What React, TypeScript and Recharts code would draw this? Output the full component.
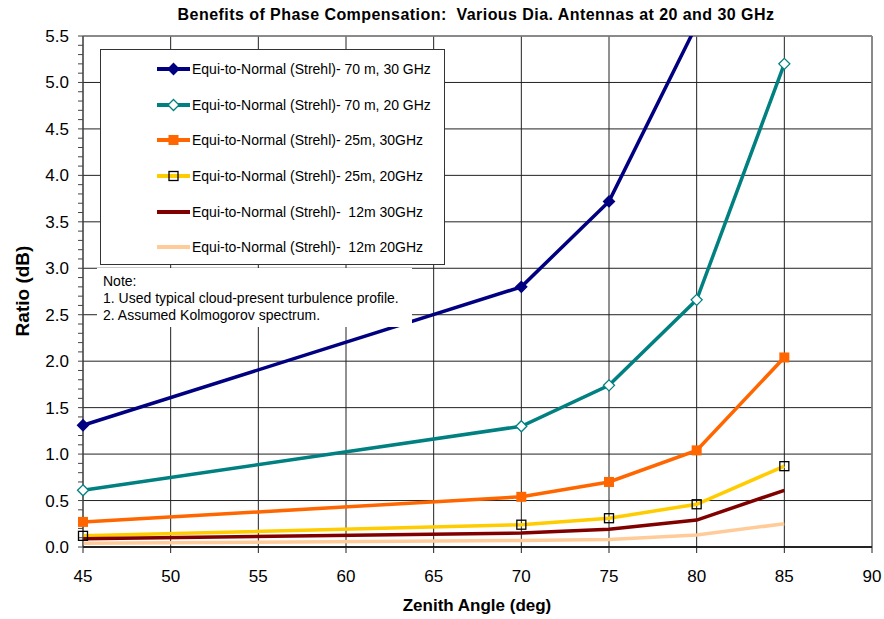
import React from "react";
import { LineChart, Line, XAxis, YAxis, CartesianGrid, Legend, ReferenceLine } from "recharts";

const FONT = '"Liberation Sans", Arial, Helvetica, sans-serif';

// zenith angles where the curves were evaluated
const angles = [45, 70, 75, 80, 85];

// ratio (dB) per series
const ratio70m30 = [1.31, 2.8, 3.72, 5.62, 11];
const ratio70m20 = [0.61, 1.3, 1.74, 2.66, 5.2];
const ratio25m30 = [0.27, 0.54, 0.7, 1.04, 2.04];
const ratio25m20 = [0.12, 0.24, 0.31, 0.46, 0.87];
const ratio12m30 = [0.09, 0.15, 0.19, 0.29, 0.61];
const ratio12m20 = [0.04, 0.07, 0.08, 0.13, 0.25];

const xTicks = [45, 50, 55, 60, 65, 70, 75, 80, 85, 90];
const yTicks = [0, 0.5, 1, 1.5, 2, 2.5, 3, 3.5, 4, 4.5, 5, 5.5];
const xMinorTicks = Array.from({ length: 46 }, (_, i) => 45 + i);
const yMinorTicks = Array.from({ length: 56 }, (_, i) => i / 10);

const noteLines = [
  "Note:",
  "1. Used typical cloud-present turbulence profile.",
  "2. Assumed Kolmogorov spectrum.",
];

type Marker = "diamond" | "diamondOpen" | "square" | "squareOpen" | "none";

const series: { key: string; name: string; color: string; marker: Marker; values: number[] }[] = [
  { key: "s1", name: "Equi-to-Normal (Strehl)- 70 m, 30 GHz", color: "#000080", marker: "diamond", values: ratio70m30 },
  { key: "s2", name: "Equi-to-Normal (Strehl)- 70 m, 20 GHz", color: "#008080", marker: "diamondOpen", values: ratio70m20 },
  { key: "s3", name: "Equi-to-Normal (Strehl)- 25m, 30GHz", color: "#FF6600", marker: "square", values: ratio25m30 },
  { key: "s4", name: "Equi-to-Normal (Strehl)- 25m, 20GHz", color: "#FFCC00", marker: "squareOpen", values: ratio25m20 },
  { key: "s5", name: "Equi-to-Normal (Strehl)-  12m 30GHz", color: "#800000", marker: "none", values: ratio12m30 },
  { key: "s6", name: "Equi-to-Normal (Strehl)-  12m 20GHz", color: "#FFCC99", marker: "none", values: ratio12m20 },
];

const data = angles.map((a, i) => {
  const row: Record<string, number> = { angle: a };
  series.forEach((s) => (row[s.key] = s.values[i]));
  return row;
});

function markerShape(kind: Marker, color: string, cx: number, cy: number, key?: string) {
  if (cx == null || cy == null || isNaN(cx) || isNaN(cy)) return <g key={key} />;
  const r = 5.5;
  if (kind === "diamond" || kind === "diamondOpen") {
    const pts = `${cx},${cy - r} ${cx + r},${cy} ${cx},${cy + r} ${cx - r},${cy}`;
    return (
      <polygon
        key={key}
        points={pts}
        fill={kind === "diamond" ? color : "#fff"}
        stroke={color}
        strokeWidth={1.3}
      />
    );
  }
  if (kind === "square") {
    return <rect key={key} x={cx - 5} y={cy - 5} width={10} height={10} fill={color} />;
  }
  if (kind === "squareOpen") {
    return <rect key={key} x={cx - 4.5} y={cy - 4.5} width={9} height={9} fill="none" stroke="#000" strokeWidth={1.3} />;
  }
  return <g key={key} />;
}

function LegendBox() {
  return (
    <div
      style={{
        width: 345,
        height: 216,
        boxSizing: "border-box",
        background: "#fff",
        border: "1px solid #333",
        paddingTop: 1,
        fontFamily: FONT,
        fontSize: 14,
      }}
    >
      {series.map((s) => (
        <div key={s.key} style={{ height: 35.7, display: "flex", alignItems: "center" }}>
          <svg width={91} height={14} style={{ flex: "none" }}>
            <line x1={56} x2={89} y1={7} y2={7} stroke={s.color} strokeWidth={4} />
            {markerShape(s.marker, s.color, 72.5, 7)}
          </svg>
          <span style={{ whiteSpace: "pre", color: "#000" }}>{s.name}</span>
        </div>
      ))}
    </div>
  );
}

export default function App() {
  const yFmt = (v: number) => (Math.round(v * 10) % 5 === 0 ? v.toFixed(1) : "");
  return (
    <div style={{ position: "absolute", left: 0, top: 0, width: 884, height: 619, background: "#fff", fontFamily: FONT }}>
      <div
        style={{
          position: "absolute",
          left: 0,
          width: 952,
          top: 6,
          textAlign: "center",
          fontWeight: "bold",
          fontSize: 16,
          letterSpacing: 0.45,
        }}
      >
        Benefits of Phase Compensation:&nbsp; Various Dia. Antennas at 20 and 30 GHz
      </div>
      <LineChart width={884} height={619} data={data} margin={{ top: 36, right: 12, bottom: 0, left: 0 }}>
        <CartesianGrid
          stroke="#222"
          strokeWidth={1}
          horizontalValues={yTicks}
          verticalValues={xTicks}
        />
        <XAxis
          xAxisId="minor"
          dataKey="angle"
          type="number"
          domain={[45, 90]}
          ticks={xMinorTicks}
          interval={0}
          mirror
          height={0}
          tick={false}
          axisLine={false}
          tickSize={5}
          tickLine={{ stroke: "#222" }}
        />
        <XAxis
          dataKey="angle"
          type="number"
          domain={[45, 90]}
          ticks={xTicks}
          interval={0}
          height={72}
          tickSize={6}
          tickMargin={17}
          tick={{ fontSize: 17, fill: "#000", fontFamily: FONT }}
          axisLine={{ stroke: "#000", strokeWidth: 1.5 }}
          tickLine={{ stroke: "#222" }}
        />
        <YAxis
          type="number"
          domain={[0, 5.5]}
          allowDataOverflow
          ticks={yMinorTicks}
          interval={0}
          tickFormatter={yFmt}
          width={83}
          tickSize={5}
          tickMargin={9}
          tick={{ fontSize: 17, fill: "#000", fontFamily: FONT }}
          axisLine={{ stroke: "#444" }}
          tickLine={{ stroke: "#444" }}
        />
        <ReferenceLine y={5.5} stroke="#888" strokeWidth={1.5} />
        <ReferenceLine x={90} stroke="#888" strokeWidth={1.5} />
        {series.map((s) => (
          <Line
            key={s.key}
            dataKey={s.key}
            name={s.name}
            type="linear"
            stroke={s.color}
            strokeWidth={3.5}
            isAnimationActive={false}
            dot={(p: any) => markerShape(s.marker, s.color, p.cx, p.cy, `${s.key}-${p.index}`)}
            activeDot={false}
          />
        ))}
        <Legend
          layout="vertical"
          align="center"
          verticalAlign="middle"
          wrapperStyle={{ left: 100, top: 49, width: 345, height: 216 }}
          content={() => <LegendBox />}
        />
      </LineChart>
      <div
        style={{
          position: "absolute",
          left: 97,
          top: 268,
          width: 315,
          height: 59,
          background: "#fff",
          boxSizing: "border-box",
          padding: "5px 0 0 6px",
          fontSize: 14,
          lineHeight: "17px",
          color: "#000",
        }}
      >
        {noteLines.map((l) => (
          <div key={l} style={{ whiteSpace: "nowrap" }}>{l}</div>
        ))}
      </div>
      <div
        style={{
          position: "absolute",
          left: 23,
          top: 291,
          transform: "translate(-50%, -50%) rotate(-90deg)",
          fontWeight: "bold",
          fontSize: 19,
          whiteSpace: "nowrap",
        }}
      >
        Ratio (dB)
      </div>
      <div
        style={{
          position: "absolute",
          left: 0,
          width: 954,
          top: 596,
          textAlign: "center",
          fontWeight: "bold",
          fontSize: 17,
        }}
      >
        Zenith Angle (deg)
      </div>
    </div>
  );
}
